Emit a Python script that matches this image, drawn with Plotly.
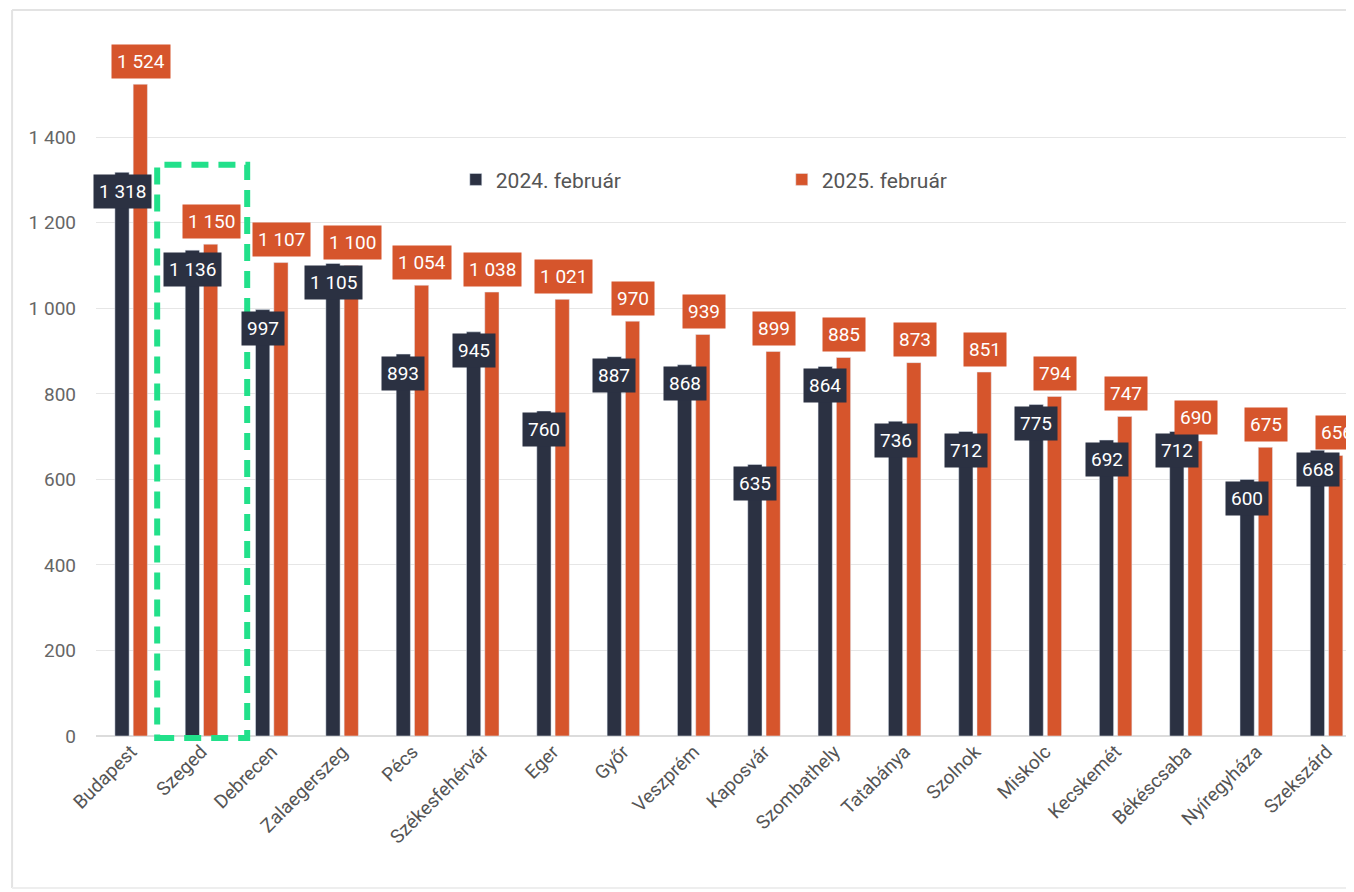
import plotly.graph_objects as go

cities = ["Budapest", "Szeged", "Debrecen", "Zalaegerszeg", "Pécs", "Székesfehérvár",
          "Eger", "Győr", "Veszprém", "Kaposvár", "Szombathely", "Tatabánya",
          "Szolnok", "Miskolc", "Kecskemét", "Békéscsaba", "Nyíregyháza", "Szekszárd"]
v2024 = [1318, 1136, 997, 1105, 893, 945, 760, 887, 868, 635, 864, 736, 712, 775, 692, 712, 600, 668]
v2025 = [1524, 1150, 1107, 1100, 1054, 1038, 1021, 970, 939, 899, 885, 873, 851, 794, 747, 690, 675, 656]
series_names = ["2024. február", "2025. február"]
y_ticks = [0, 200, 400, 600, 800, 1000, 1200, 1400]

DARK = "#2b3142"
ORANGE = "#d6552c"
FONT = "Roboto"


def fmt(v):
    return f"{v:,}".replace(",", " ")


fig = go.Figure()
fig.add_trace(go.Bar(x=cities, y=v2024, name=series_names[0], marker_color=DARK))
fig.add_trace(go.Bar(x=cities, y=v2025, name=series_names[1], marker_color=ORANGE))

ann = []
for c, v in zip(cities, v2024):
    ann.append(dict(x=c, y=v, xref="x", yref="y", text=fmt(v), showarrow=False,
                    xshift=-9, yshift=-19, bgcolor=DARK, borderpad=5,
                    font=dict(family=FONT, size=19, color="white")))
for c, v in zip(cities, v2025):
    ann.append(dict(x=c, y=v, xref="x", yref="y", text=fmt(v), showarrow=False,
                    xshift=10, yshift=23, bgcolor=ORANGE, borderpad=5,
                    font=dict(family=FONT, size=19, color="white")))

shapes = [
    # highlight box around Szeged
    dict(type="rect", xref="x", yref="paper", x0=0.37, x1=1.65, y0=-0.003, y1=0.84,
         line=dict(color="#22e08a", width=6, dash="17px,10px"), fillcolor="rgba(0,0,0,0)"),
    # outer frame
    dict(type="line", xref="paper", yref="paper", x0=-0.0667, x1=-0.0667, y0=-0.2235, y1=1.0676,
         line=dict(color="#e3e3e3", width=2)),
    dict(type="line", xref="paper", yref="paper", x0=-0.0667, x1=1.0, y0=1.0676, y1=1.0676,
         line=dict(color="#e3e3e3", width=2)),
    dict(type="line", xref="paper", yref="paper", x0=-0.0667, x1=1.0, y0=-0.2235, y1=-0.2235,
         line=dict(color="#eeeeee", width=2)),
]

fig.update_layout(
    width=1346, height=884,
    margin=dict(l=88, r=0, t=48, b=156),
    paper_bgcolor="white", plot_bgcolor="white",
    separators=", ",
    barmode="group", bargap=0.48, bargroupgap=0.22,
    font=dict(family=FONT, color="#555555"),
    legend=dict(orientation="h", x=0.286, y=0.818, xanchor="left", yanchor="middle",
                entrywidth=281, entrywidthmode="pixels",
                font=dict(family=FONT, size=21, color="#555555"),
                bgcolor="rgba(0,0,0,0)"),
    annotations=ann,
    shapes=shapes,
)
fig.update_xaxes(range=[-0.5, 17.39], tickangle=-45, showgrid=False,
                 tickfont=dict(family=FONT, size=19, color="#555555"),
                 showline=False, ticks="")
fig.update_yaxes(range=[0, 1590], tickvals=y_ticks, tickformat=",d",
                 showgrid=True, gridcolor="#e6e6e6", gridwidth=1,
                 zeroline=True, zerolinecolor="#dcdcdc", zerolinewidth=2,
                 tickfont=dict(family=FONT, size=19, color="#666666"),
                 ticklabelstandoff=19)

fig.write_html("out.html")
